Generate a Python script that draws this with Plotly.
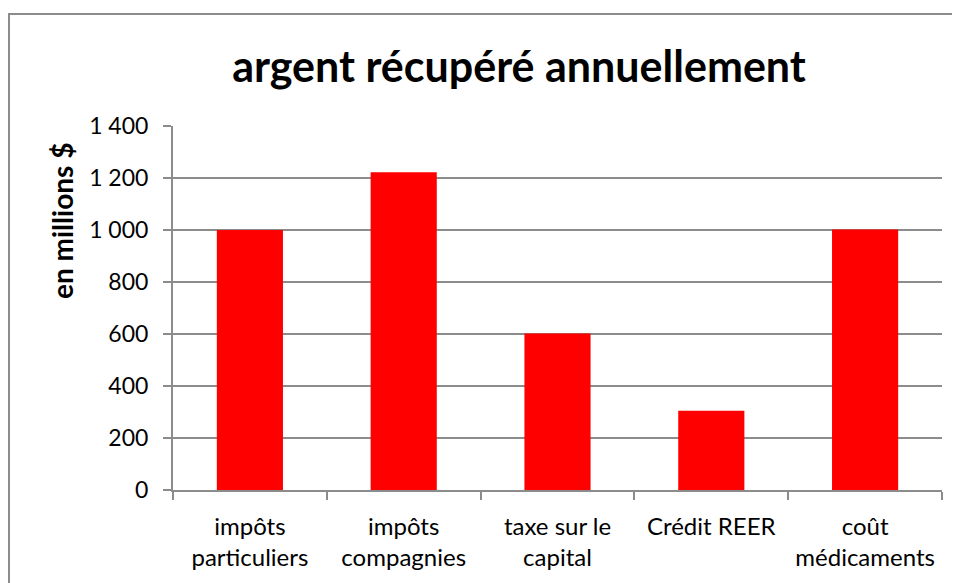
import plotly.graph_objects as go

categories = ["impôts<br>particuliers", "impôts<br>compagnies", "taxe sur le<br>capital",
              "Crédit REER", "coût<br>médicaments"]
values = [1000, 1222, 602, 305, 1002]
title_text = "argent récupéré annuellement"
y_title = "en millions $"

FONT = "Lato, 'Open Sans', sans-serif"
GRAY = "#8c8c8c"
OFF = 8  # browser body margin

L, R, T, B = 173 - OFF, 960 - 942 + OFF, 126 - OFF, 583 - 490 + OFF
PW, PH = 960 - L - R, 583 - T - B

fig = go.Figure(go.Bar(x=categories, y=values, marker=dict(color="#ff0000", line=dict(width=0)),
                       width=0.43))

fig.update_layout(
    width=960, height=583,
    margin=dict(l=L, r=R, t=T, b=B),
    paper_bgcolor="white", plot_bgcolor="white",
    separators=", ",
    showlegend=False,
    title=dict(text="<b>" + title_text + "</b>", x=(519 - 173) / PW, xref="paper",
               xanchor="center", y=1 - (67 - OFF) / 583, yanchor="middle",
               font=dict(family=FONT, size=43, color="black")),
    font=dict(family=FONT, size=24, color="black"),
)

fig.update_yaxes(range=[0, 1400], dtick=200, separatethousands=True,
                 showgrid=True, gridcolor=GRAY, gridwidth=2,
                 showline=True, linecolor=GRAY, linewidth=2,
                 ticks="outside", ticklen=8, tickcolor=GRAY, tickwidth=2,
                 tickfont=dict(size=23, family=FONT), ticklabelstandoff=10,
                 zeroline=False)
fig.update_xaxes(showline=True, linecolor=GRAY, linewidth=2,
                 ticks="outside", ticklen=8, tickcolor=GRAY, tickwidth=2,
                 tickson="boundaries", showgrid=False, ticklabelstandoff=14,
                 tickfont=dict(size=24, family=FONT))

fig.add_annotation(text="<b>" + y_title + "</b>", textangle=-90, showarrow=False,
                   xref="paper", yref="paper", x=(62 - 173) / PW, y=(490 - 221) / PH,
                   xanchor="center", yanchor="middle",
                   font=dict(size=28, family=FONT, color="black"))

fig.add_shape(type="rect", xref="paper", yref="paper",
              x0=(9 - 173) / PW, x1=1.2, y0=-0.5, y1=(490 - 14) / PH,
              line=dict(color=GRAY, width=2), layer="below")

fig.write_html("out.html")
